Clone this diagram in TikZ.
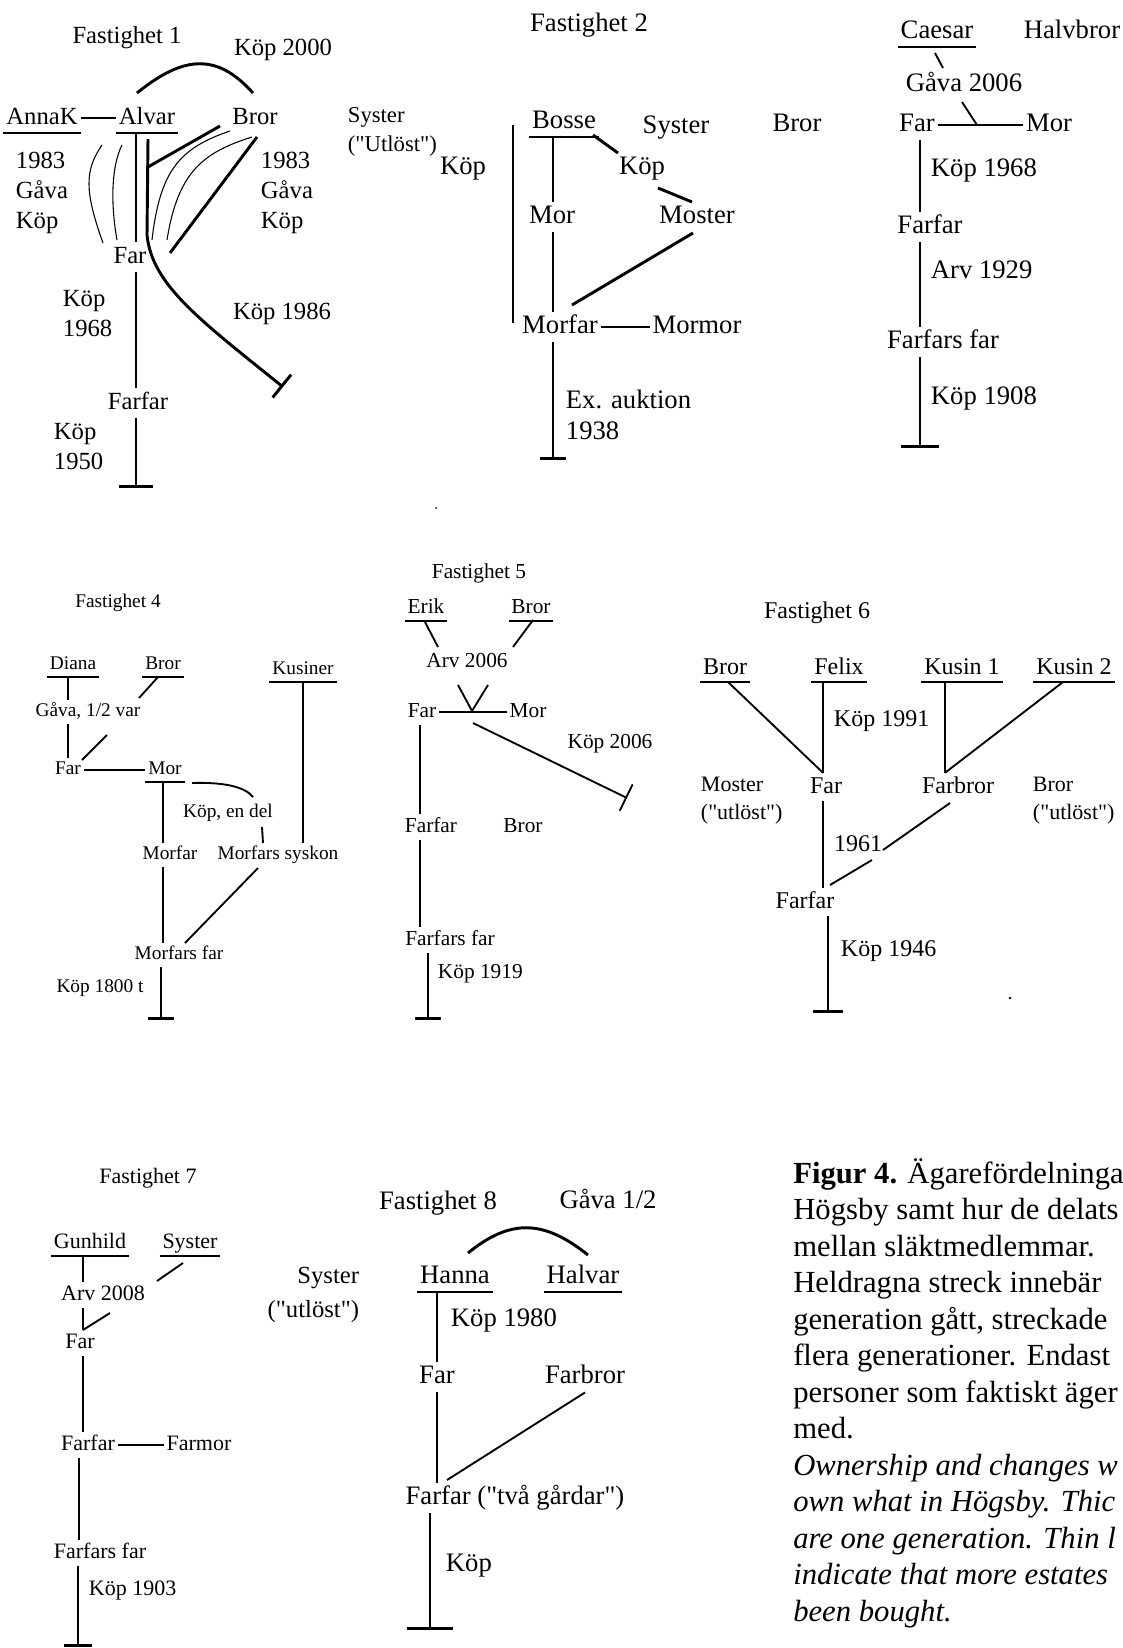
\documentclass[tikz,border=0pt]{standalone}
\usepackage{fontspec}
\setmainfont{Liberation Serif}
\usetikzlibrary{arrows.meta}
\newcommand{\qd}{\textquotedbl}
\tikzset{
  lbl/.style={inner sep=2pt, font=\fontsize{\psz}{\plsk}\selectfont,
              text height=0.72pt*\psz, text depth=0.22pt*\psz},
  txt/.style={inner sep=2pt, align=left, font=\fontsize{\psz}{\plsk}\selectfont},
  uline/.style={line width=1.5pt},
  owner/.style={lbl, append after command={(\tikzlastnode.south west) edge[uline] (\tikzlastnode.south east)}},
  gen/.style={line width=2.2pt},
  mid/.style={line width=1.4pt},
  thin/.style={line width=0.8pt},
  tbar/.style={-{Bar[width=#1]}},
}
\begin{document}
\begin{tikzpicture}[x=0.75pt, y=-0.75pt]
\fill[white] (0,0) rectangle (1123,1648);
\useasboundingbox (0,0) rectangle (1123,1648);

% ===== FASTIGHET 1 =====
\begin{scope}
\def\psz{18.5}\def\plsk{22.5}
\node[lbl] (f1title) at (127,37) {Fastighet 1};
\node[lbl] (f1k2000) at (283,49) {Köp 2000};
\node[owner] (f1anna) at (42,118) {AnnaK};
\node[owner] (f1alvar) at (147,118) {Alvar};
\node[lbl] (f1bror) at (255,118) {Bror};
\node[txt, anchor=west] (f1left) at (13,193) {1983\\Gåva\\Köp};
\node[txt, anchor=west] (f1right) at (258,193) {1983\\Gåva\\Köp};
\node[lbl] (f1far) at (130,257) {Far};
\node[txt, anchor=west] (f1k1968) at (60,314) {Köp\\1968};
\node[lbl] (f1k1986) at (282,313) {Köp 1986};
\node[lbl] (f1farfar) at (138,403) {Farfar};
\node[txt, anchor=west] (f1k1950) at (51,447) {Köp\\1950};
% arc over the two brothers
\coordinate (f1arcL) at (137,93);
\coordinate (f1arcR) at (253,93);
\draw[gen] (f1arcL) .. controls (185,54) and (218,54) .. (f1arcR);
\draw[gen] (f1anna.east) -- (f1alvar.west);
% main trunk
\coordinate (f1t) at (136,0);
\coordinate (f1end) at (136,488);
\draw[gen] (f1alvar.south -| f1t) -- (f1far.north -| f1t);
\draw[gen] (f1far.south -| f1t) -- (f1farfar.north -| f1t);
\draw[gen, tbar=25pt] (f1farfar.south -| f1t) -- (f1end);
% Köp 1986
\coordinate (f1b0) at (148,139);
\coordinate (f1b1) at (283,387);
\draw[gen, tbar=22pt] (f1b0) -- (147,235) .. controls (152,285) and (200,320) .. (f1b1);
\coordinate (f1c1) at (220,126);
\coordinate (f1c2) at (148,167);
\draw[gen] (f1c1) -- (f1c2);
\coordinate (f1d1) at (257,137);
\coordinate (f1d2) at (170,253);
\draw[gen] (f1d1) -- (f1d2);
% thin lines (several generations)
\draw[thin] (102,145) .. controls (85,170) and (84,190) .. (103,243);
\draw[thin] (122,145) .. controls (112,165) and (110,200) .. (117,240);
\draw[thin] (230,131) .. controls (180,148) and (160,170) .. (152,240);
\draw[thin] (252,137) .. controls (205,152) and (178,170) .. (167,240);
\end{scope}

% ===== FASTIGHET 2 =====
\begin{scope}
\def\psz{20}\def\plsk{23}
\node[lbl] (f2title) at (589,25) {Fastighet 2};
\node[txt, anchor=west, font=\fontsize{17}{22}\selectfont] (f2syster) at (345,132) {Syster\\(\qd Utlöst\qd)};
\node[lbl] (f2k1) at (463,168) {Köp};
\node[owner] (f2bosse) at (564,122) {Bosse};
\node[lbl] (f2syster2) at (676,127) {Syster};
\node[lbl] (f2bror) at (797,125) {Bror};
\node[lbl] (f2mor) at (552,217) {Mor};
\node[lbl] (f2k2) at (642,168) {Köp};
\node[lbl] (f2moster) at (697,217) {Moster};
\node[lbl] (f2morfar) at (560,327) {Morfar};
\node[lbl] (f2mormor) at (697,327) {Mormor};
\node[txt, anchor=west] (f2auk) at (563,415) {Ex. auktion\\1938};
\coordinate (f2v0) at (513,125);
\coordinate (f2v1) at (513,323);
\draw[gen] (f2v0) -- (f2v1);
\coordinate (f2t) at (553,0);
\coordinate (f2end) at (553,460);
\draw[gen] (f2bosse.south -| f2t) -- (f2mor.north -| f2t);
\draw[gen] (f2mor.south -| f2t) -- (f2morfar.north -| f2t);
\draw[gen, tbar=20pt] (f2morfar.south -| f2t) -- (f2end);
\coordinate (f2a0) at (593,135);
\coordinate (f2a1) at (618,153);
\draw[gen] (f2a0) -- (f2a1);
\coordinate (f2a2) at (658,188);
\coordinate (f2a3) at (692,202);
\draw[gen] (f2a2) -- (f2a3);
\coordinate (f2m0) at (693,233);
\coordinate (f2m1) at (572,305);
\draw[gen] (f2m0) -- (f2m1);
\draw[gen] (f2morfar.east) -- (f2mormor.west);
\end{scope}

% ===== FASTIGHET 3 =====
\begin{scope}
\def\psz{20}\def\plsk{23}
\node[owner] (f3caesar) at (937,32) {Caesar};
\node[lbl] (f3halv) at (1072,32) {Halvbror};
\node[lbl] (f3gava) at (964,85) {Gåva 2006};
\node[lbl] (f3far) at (917,125) {Far};
\node[lbl] (f3mor) at (1049,125) {Mor};
\node[lbl, anchor=west] (f3k1968) at (928,170) {Köp 1968};
\node[lbl] (f3farfar) at (930,227) {Farfar};
\node[lbl, anchor=west] (f3arv) at (928,272) {Arv 1929};
\node[lbl] (f3ff) at (943,342) {Farfars far};
\node[lbl, anchor=west] (f3k1908) at (928,398) {Köp 1908};
\coordinate (f3g0) at (935,53);
\coordinate (f3g1) at (943,68);
\draw[mid] (f3g0) -- (f3g1);
\draw[gen] (f3far.east) -- (f3mor.west);
\coordinate (f3j0) at (962,102);
\coordinate (f3j1) at (977,125);
\draw[mid] (f3j0) -- (f3j1);
\coordinate (f3t) at (920,0);
\coordinate (f3end) at (920,448);
\draw[gen] (f3far.south -| f3t) -- (f3farfar.north -| f3t);
\draw[gen] (f3farfar.south -| f3t) -- (f3ff.north -| f3t);
\draw[gen, tbar=28pt] (f3ff.south -| f3t) -- (f3end);
\end{scope}

% ===== FASTIGHET 4 =====
\begin{scope}
\def\psz{14.5}\def\plsk{17.5}
\node[lbl] (f4title) at (118,603) {Fastighet 4};
\node[owner] (f4diana) at (73,665) {Diana};
\node[owner] (f4bror) at (163,665) {Bror};
\node[owner] (f4kus) at (303,670) {Kusiner};
\node[lbl] (f4gava) at (88,712) {Gåva, 1/2 var};
\node[lbl] (f4far) at (68,770) {Far};
\node[owner] (f4mor) at (165,770) {Mor};
\node[lbl] (f4kop) at (228,813) {Köp, en del};
\node[lbl] (f4morfar) at (170,855) {Morfar};
\node[lbl] (f4syskon) at (278,855) {Morfars syskon};
\node[lbl] (f4mff) at (179,955) {Morfars far};
\node[lbl] (f4k1800) at (100,988) {Köp 1800 t};
\coordinate (f4t) at (68,0);
\draw[gen] (f4diana.south -| f4t) -- (f4gava.north -| f4t);
\draw[gen] (f4gava.south -| f4t) -- (f4far.north -| f4t);
\coordinate (f4b0) at (158,677);
\coordinate (f4b1) at (139,698);
\draw[mid] (f4b0) -- (f4b1);
\coordinate (f4g0) at (107,735);
\coordinate (f4g1) at (82,760);
\draw[mid] (f4g0) -- (f4g1);
\draw[mid] (f4far.east) -- (f4mor.west);
\coordinate (f4u) at (163,0);
\coordinate (f4end) at (161,1020);
\draw[gen] (f4mor.south -| f4u) -- (f4morfar.north -| f4u);
\draw[gen] (f4morfar.south -| f4u) -- (f4mff.north -| f4u);
\draw[gen, tbar=19pt] (f4mff.south -| f4end) -- (f4end);
\coordinate (f4c0) at (192,783);
\coordinate (f4c1) at (253,797);
\draw[mid] (f4c0) .. controls (225,782) and (245,787) .. (f4c1);
\coordinate (f4d0) at (262,827);
\coordinate (f4d1) at (263,843);
\draw[mid] (f4d0) -- (f4d1);
\draw[gen] (f4kus.south) -- (f4kus.south |- f4syskon.north);
\coordinate (f4e0) at (258,868);
\coordinate (f4e1) at (185,943);
\draw[mid] (f4e0) -- (f4e1);
\end{scope}

% ===== FASTIGHET 5 =====
\begin{scope}
\def\psz{16}\def\plsk{19}
\node[lbl] (f5title) at (479,573) {Fastighet 5};
\node[owner] (f5erik) at (426,608) {Erik};
\node[owner] (f5bror) at (531,608) {Bror};
\node[lbl] (f5arv) at (467,662) {Arv 2006};
\node[lbl] (f5far) at (422,712) {Far};
\node[lbl] (f5mor) at (528,712) {Mor};
\node[lbl] (f5k2006) at (610,743) {Köp 2006};
\node[lbl] (f5farfar) at (431,827) {Farfar};
\node[lbl] (f5bror2) at (523,827) {Bror};
\node[lbl] (f5ff) at (450,940) {Farfars far};
\node[lbl, anchor=west] (f5k1919) at (435,973) {Köp 1919};
\coordinate (f5a0) at (425,622);
\coordinate (f5a1) at (438,647);
\draw[mid] (f5a0) -- (f5a1);
\coordinate (f5b0) at (533,620);
\coordinate (f5b1) at (513,647);
\draw[mid] (f5b0) -- (f5b1);
\coordinate (f5v0) at (458,685);
\coordinate (f5v) at (472,711);
\coordinate (f5v1) at (488,685);
\draw[mid] (f5v0) -- (f5v) -- (f5v1);
\draw[mid] (f5far.east) -- (f5mor.west);
\coordinate (f5k0) at (473,723);
\coordinate (f5k1) at (627,798);
\draw[mid, tbar=22pt] (f5k0) -- (f5k1);
\coordinate (f5t) at (420,0);
\coordinate (f5end) at (428,1020);
\draw[gen] (f5far.south -| f5t) -- (f5farfar.north -| f5t);
\draw[gen] (f5farfar.south -| f5t) -- (f5ff.north -| f5t);
\draw[gen, tbar=19pt] (f5ff.south -| f5end) -- (f5end);
\end{scope}

% ===== FASTIGHET 6 =====
\begin{scope}
\def\psz{18}\def\plsk{21}
\node[lbl] (f6title) at (817,612) {Fastighet 6};
\node[owner] (f6bror) at (725,668) {Bror};
\node[owner] (f6felix) at (839,668) {Felix};
\node[owner] (f6kus1) at (962,668) {Kusin 1};
\node[owner] (f6kus2) at (1074,668) {Kusin 2};
\node[lbl, anchor=west] (f6k1991) at (831,720) {Köp 1991};
\node[txt, anchor=west, font=\fontsize{16.5}{21}\selectfont] (f6moster) at (698,801) {Moster\\(\qd utlöst\qd)};
\node[lbl] (f6far) at (826,787) {Far};
\node[lbl] (f6farbror) at (958,787) {Farbror};
\node[txt, anchor=west, font=\fontsize{16.5}{21}\selectfont] (f6bror2) at (1030,801) {Bror\\(\qd utlöst\qd)};
\node[lbl] (f6y1961) at (858,845) {1961};
\node[lbl] (f6farfar) at (805,902) {Farfar};
\node[lbl, anchor=west] (f6k1946) at (838,950) {Köp 1946};
\coordinate (f6t) at (823,0);
\draw[gen] (f6felix.south -| f6t) -- (f6far.north -| f6t);
\coordinate (f6b0) at (728,682);
\draw[mid] (f6b0) -- (f6far.north -| f6t);
\coordinate (f6u) at (945,0);
\draw[gen] (f6kus1.south -| f6u) -- (f6farbror.north -| f6u);
\coordinate (f6c0) at (1063,682);
\draw[mid] (f6c0) -- (f6farbror.north -| f6u);
\draw[gen] (f6far.south -| f6t) -- (f6farfar.north -| f6t);
\coordinate (f6d0) at (950,803);
\coordinate (f6d1) at (883,850);
\coordinate (f6d2) at (872,860);
\coordinate (f6d3) at (830,885);
\draw[mid] (f6d0) -- (f6d1);
\draw[mid] (f6d2) -- (f6d3);
\coordinate (f6end) at (828,1013);
\draw[gen, tbar=22pt] (f6farfar.south -| f6end) -- (f6end);
\fill (1010,998) circle (1.3);
\fill (436,508) circle (1);
\end{scope}

% ===== FASTIGHET 7 =====
\begin{scope}
\def\psz{16.5}\def\plsk{20}
\node[lbl] (f7title) at (148,1178) {Fastighet 7};
\node[owner] (f7gun) at (90,1243) {Gunhild};
\node[owner] (f7sys) at (190,1243) {Syster};
\node[lbl] (f7arv) at (103,1295) {Arv 2008};
\node[lbl] (f7far) at (80,1343) {Far};
\node[lbl] (f7farfar) at (88,1445) {Farfar};
\node[lbl] (f7farmor) at (199,1445) {Farmor};
\node[lbl] (f7ff) at (100,1553) {Farfars far};
\node[lbl, anchor=west] (f7k1903) at (86,1590) {Köp 1903};
\coordinate (f7t) at (83,0);
\draw[gen] (f7gun.south -| f7t) -- (f7arv.north -| f7t);
\draw[gen] (f7arv.south -| f7t) -- (f7far.north -| f7t);
\draw[gen] (f7far.south -| f7t) -- (f7farfar.north -| f7t);
\coordinate (f7s0) at (183,1263);
\coordinate (f7s1) at (157,1281);
\draw[mid] (f7s0) -- (f7s1);
\coordinate (f7a0) at (110,1313);
\coordinate (f7a1) at (83,1330);
\draw[mid] (f7a0) -- (f7a1);
\draw[mid] (f7farfar.east) -- (f7farmor.west);
\coordinate (f7u) at (79,0);
\coordinate (f7end) at (78,1647);
\draw[gen] (f7farfar.south -| f7u) -- (f7ff.north -| f7u);
\draw[gen, tbar=21pt] (f7ff.south -| f7end) -- (f7end);
\end{scope}

% ===== FASTIGHET 8 =====
\begin{scope}
\def\psz{20}\def\plsk{24}
\node[lbl] (f8title) at (438,1203) {Fastighet 8};
\node[lbl] (f8gava) at (608,1202) {Gåva 1/2};
\node[txt, anchor=east, align=right, font=\fontsize{18.5}{26}\selectfont] (f8syster) at (362,1295) {Syster\\(\qd utlöst\qd)};
\node[owner] (f8hanna) at (455,1277) {Hanna};
\node[owner] (f8halvar) at (583,1277) {Halvar};
\node[lbl, anchor=west] (f8k1980) at (448,1320) {Köp 1980};
\node[lbl] (f8far) at (437,1377) {Far};
\node[lbl] (f8farbror) at (585,1377) {Farbror};
\node[lbl] (f8farfar) at (515,1498) {Farfar (\qd två gårdar\qd)};
\node[lbl, anchor=west] (f8koep) at (443,1565) {Köp};
\coordinate (f8a0) at (468,1253);
\coordinate (f8a1) at (588,1255);
\draw[gen] (f8a0) .. controls (510,1219) and (543,1219) .. (f8a1);
\coordinate (f8t) at (437,0);
\draw[gen] (f8hanna.south -| f8t) -- (f8far.north -| f8t);
\draw[gen] (f8far.south -| f8t) -- (f8farfar.north -| f8t);
\coordinate (f8b1) at (447,1480);
\draw[mid] (f8farbror.south) -- (f8b1);
\coordinate (f8end) at (430,1630);
\draw[gen, tbar=34pt] (f8farfar.south -| f8end) -- (f8end);
\end{scope}

% ===== CAPTION =====
\node[anchor=north west, inner sep=0pt, align=left,
      font=\fontsize{23}{27.4}\selectfont] (caption) at (793,1158)
  {\textbf{Figur 4.} Ägarefördelninga\\
   Högsby samt hur de delats\\
   mellan släktmedlemmar.\\
   Heldragna streck innebär\\
   generation gått, streckade\\
   flera generationer. Endast\\
   personer som faktiskt äger\\
   med.\\
   \textit{Ownership and changes w}\\
   \textit{own what in Högsby. Thic}\\
   \textit{are one generation. Thin l}\\
   \textit{indicate that more estates}\\
   \textit{been bought.}};

\end{tikzpicture}
\end{document}
